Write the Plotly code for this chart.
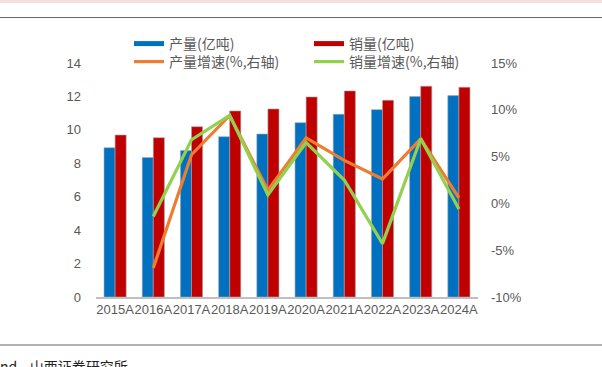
import plotly.graph_objects as go

years = ["2015A", "2016A", "2017A", "2018A", "2019A", "2020A", "2021A", "2022A", "2023A", "2024A"]
production = [8.93, 8.34, 8.76, 9.59, 9.75, 10.43, 10.93, 11.21, 11.99, 12.05]
sales = [9.69, 9.53, 10.19, 11.13, 11.25, 11.97, 12.33, 11.77, 12.61, 12.55]
prod_growth = [None, -6.9, 5.2, 9.4, 1.4, 7.0, 4.6, 2.6, 6.9, 0.6]
sales_growth = [None, -1.4, 6.8, 9.4, 0.9, 6.5, 2.5, -4.3, 6.9, -0.6]

left_ticks = [0, 2, 4, 6, 8, 10, 12, 14]
right_ticks = [-10, -5, 0, 5, 10, 15]
right_labels = [f"{t}%" for t in right_ticks]

BLUE = "#0070C0"
RED = "#C00000"
ORANGE = "#ED7D31"
GREEN = "#92D050"
GREY = "#595959"

W, H = 602, 367
L, R, T, B = 96, 478, 63, 297

fig = go.Figure()
fig.add_trace(go.Bar(x=years, y=production, name="产量(亿吨)", marker=dict(color=BLUE, line=dict(color="#a6a6a6", width=0.6)),
                     showlegend=False, legendgroup="p"))
fig.add_trace(go.Bar(x=years, y=sales, name="销量(亿吨)", marker=dict(color=RED, line=dict(color="#a6a6a6", width=0.6)),
                     showlegend=False, legendgroup="s"))
# legend proxies for bars (rectangular swatches)
fig.add_trace(go.Scatter(x=[None], y=[None], mode="lines", name="产量(亿吨)", line=dict(color=BLUE, width=5),
                         legend="legend", legendgroup="p"))
fig.add_trace(go.Scatter(x=[None], y=[None], mode="lines", name="销量(亿吨)", line=dict(color=RED, width=5),
                         legend="legend", legendgroup="s"))
fig.add_trace(go.Scatter(x=years, y=prod_growth, mode="lines", name="产量增速(%,右轴)", yaxis="y2",
                         line=dict(color=ORANGE, width=3.2), legend="legend2"))
fig.add_trace(go.Scatter(x=years, y=sales_growth, mode="lines", name="销量增速(%,右轴)", yaxis="y2",
                         line=dict(color=GREEN, width=3.2), legend="legend2"))

def px_x(px):
    return (px - L) / (R - L)

def px_y(py):
    return (B - py) / (B - T)

legend_common = dict(orientation="h", xref="container", yref="container", xanchor="left", yanchor="middle",
                     font=dict(family="Noto Sans CJK SC", size=14, color=GREY), entrywidth=135,
                     bgcolor="rgba(0,0,0,0)", itemwidth=30, tracegroupgap=0)

fig.update_layout(
    width=W, height=H,
    margin=dict(l=L, r=W - R, t=T, b=H - B, pad=0, autoexpand=False),
    paper_bgcolor="white", plot_bgcolor="white",
    barmode="group", bargap=0.42, bargroupgap=0,
    font=dict(family="Liberation Sans", size=12, color=GREY),
    legend=dict(**legend_common, x=129 / W, y=1 - 44 / H),
    legend2=dict(**legend_common, x=129 / W, y=1 - 62 / H),
    xaxis=dict(showgrid=False, showline=True, linecolor="#bfbfbf", linewidth=1.5, ticks="", tickangle=0,
               tickfont=dict(family="Liberation Sans", size=13, color=GREY), range=[-0.5, 9.5]),
    yaxis=dict(range=[0, 14], tickvals=left_ticks, showgrid=False, zeroline=False, showline=False,
               ticks="", ticklabelstandoff=14, tickfont=dict(family="Liberation Sans", size=13, color=GREY)),
    yaxis2=dict(range=[-10, 15], tickvals=right_ticks, ticktext=right_labels, overlaying="y", side="right",
                showgrid=False, zeroline=False, showline=False, ticks="", ticklabelstandoff=12,
                tickfont=dict(family="Liberation Sans", size=13, color=GREY)),
    shapes=[
        dict(type="rect", xref="paper", yref="paper", x0=px_x(0), x1=px_x(W), y0=px_y(0), y1=px_y(3),
             fillcolor="#f6dfe0", line=dict(width=0), layer="below"),
        dict(type="line", xref="paper", yref="paper", x0=px_x(0), x1=px_x(W), y0=px_y(17.5), y1=px_y(17.5),
             line=dict(color="#666666", width=1.2)),
        dict(type="line", xref="paper", yref="paper", x0=px_x(0), x1=px_x(W), y0=px_y(345), y1=px_y(345),
             line=dict(color="#666666", width=1.2)),
    ],
    annotations=[
        dict(text="nd    山西证券研究所", xref="paper", yref="paper", x=px_x(-2), y=px_y(366), xanchor="left",
             yanchor="middle", showarrow=False, font=dict(family="Noto Sans CJK SC", size=14, color="#222222")),
    ],
)

fig.write_html("out.html", config={"displayModeBar": False},
               post_script="document.body.style.margin='0';document.body.style.overflow='hidden';")
